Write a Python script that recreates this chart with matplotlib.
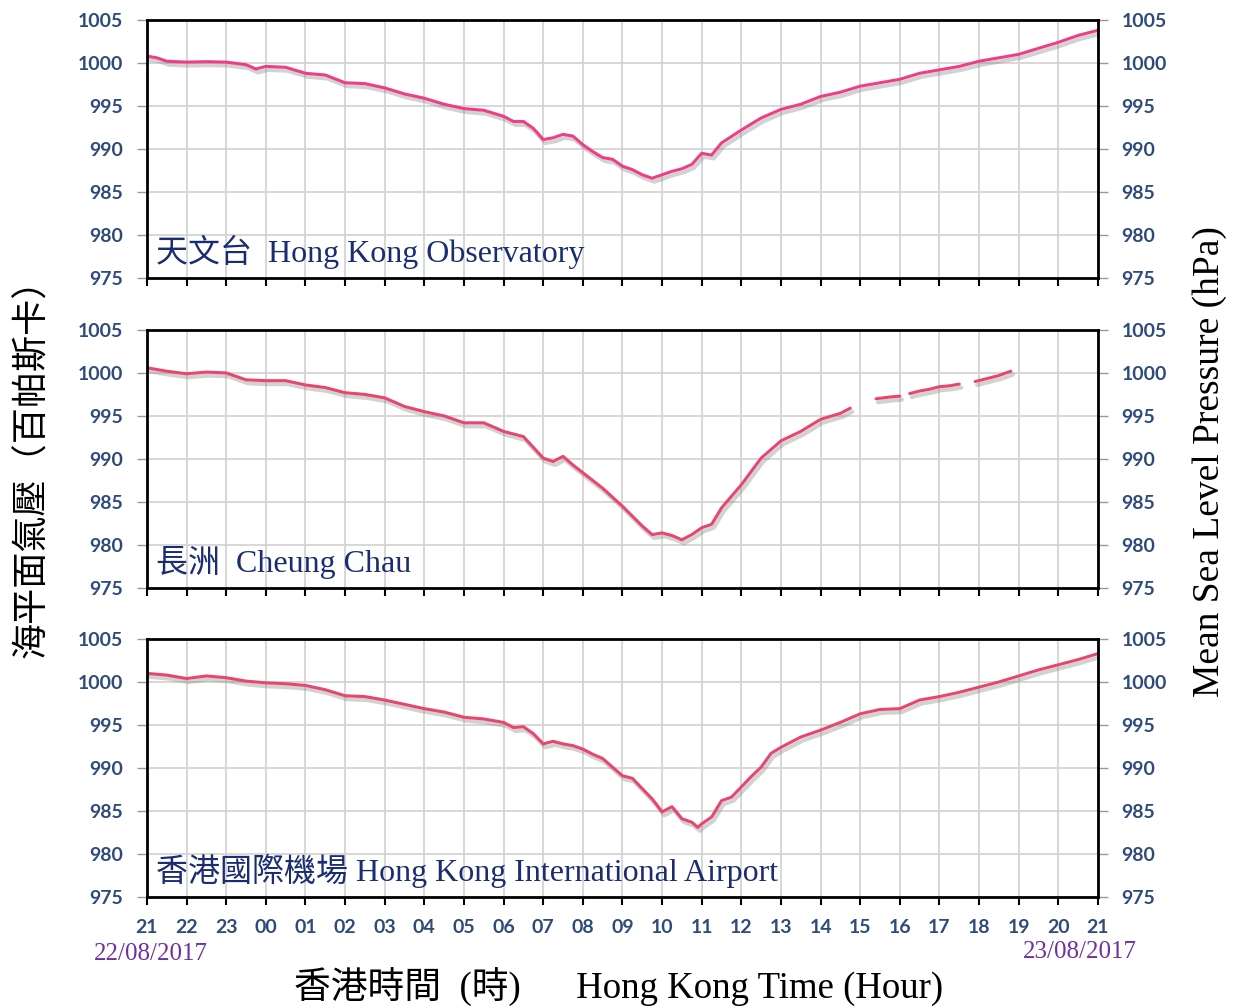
import numpy as np
import matplotlib
matplotlib.use("Agg")
import matplotlib.pyplot as plt
import matplotlib.patheffects as pe

# hours after 21:00 on 22/08/2017
hko_hours = [0, 0.25, 0.5, 1, 1.5, 2, 2.5, 2.75, 3, 3.5, 4, 4.5, 5, 5.5, 6, 6.5, 7, 7.5,
             8, 8.5, 9, 9.25, 9.5, 9.75, 10, 10.25, 10.5, 10.75, 11, 11.25, 11.5, 11.75,
             12, 12.25, 12.5, 12.75, 13, 13.25, 13.5, 13.75, 14, 14.25, 14.5, 15, 15.5,
             16, 16.5, 17, 17.5, 18, 18.5, 19, 19.5, 20, 20.5, 21, 21.5, 22, 22.5, 23,
             23.5, 24]
hko_hpa = [1000.8, 1000.6, 1000.2, 1000.1, 1000.15, 1000.1, 999.8, 999.3, 999.6, 999.5,
           998.8, 998.6, 997.7, 997.6, 997.1, 996.4, 995.9, 995.2, 994.7, 994.5, 993.8,
           993.2, 993.2, 992.4, 991.1, 991.3, 991.7, 991.5, 990.5, 989.7, 989.0, 988.8,
           988.0, 987.6, 987.0, 986.6, 987.0, 987.4, 987.7, 988.2, 989.5, 989.3, 990.7,
           992.2, 993.6, 994.6, 995.2, 996.1, 996.6, 997.3, 997.7, 998.1, 998.8, 999.2,
           999.6, 1000.2, 1000.6, 1001.0, 1001.7, 1002.4, 1003.2, 1003.8]

cc_hours = [0, 0.5, 1, 1.5, 2, 2.5, 3, 3.5, 4, 4.5, 5, 5.5, 6, 6.5, 7, 7.5, 8, 8.5, 9,
            9.5, 10, 10.25, 10.5, 10.75, 11, 11.5, 12, 12.5, 12.75, 13, 13.25, 13.5,
            13.75, 14, 14.25, 14.5, 15, 15.5, 16, 16.5, 17, 17.5, 17.75, 18.0, 18.4,
            18.75, 19.0, 19.1, 19.25, 19.5, 19.75, 20.0, 20.25, 20.5, 20.65, 20.9,
            21.25, 21.5, 21.8]
cc_hpa = [1000.6, 1000.2, 999.9, 1000.1, 1000.0, 999.2, 999.1, 999.1, 998.6, 998.3,
          997.7, 997.5, 997.1, 996.1, 995.5, 995.0, 994.2, 994.2, 993.2, 992.6, 990.1,
          989.7, 990.3, 989.3, 988.4, 986.6, 984.5, 982.2, 981.2, 981.4, 981.1, 980.6,
          981.2, 982.0, 982.4, 984.3, 987.0, 990.1, 992.1, 993.2, 994.6, 995.3, 995.9,
          np.nan, 997.0, 997.2, 997.3, np.nan, 997.6, 997.9, 998.1, 998.4, 998.5,
          998.7, np.nan, 999.0, 999.4, 999.7, 1000.2]

hkia_hours = [0, 0.5, 1, 1.5, 2, 2.5, 3, 3.5, 4, 4.5, 5, 5.5, 6, 6.5, 7, 7.5, 8, 8.5, 9,
              9.25, 9.5, 9.75, 10, 10.25, 10.5, 10.75, 11, 11.25, 11.5, 11.75, 12, 12.25,
              12.5, 12.75, 13, 13.25, 13.5, 13.75, 13.9, 14, 14.25, 14.5, 14.75, 15,
              15.25, 15.5, 15.75, 16, 16.5, 17, 17.5, 18, 18.5, 19, 19.5, 20, 20.5, 21,
              21.5, 22, 22.5, 23, 23.5, 24]
hkia_hpa = [1001.0, 1000.8, 1000.4, 1000.7, 1000.5, 1000.1, 999.9, 999.8, 999.6, 999.1,
            998.4, 998.3, 997.9, 997.4, 996.9, 996.5, 995.9, 995.7, 995.3, 994.7, 994.8,
            994.0, 992.8, 993.1, 992.8, 992.6, 992.2, 991.6, 991.1, 990.1, 989.1, 988.8,
            987.6, 986.4, 984.9, 985.5, 984.1, 983.7, 983.1, 983.5, 984.3, 986.2, 986.6,
            987.8, 989.0, 990.1, 991.7, 992.4, 993.6, 994.4, 995.3, 996.3, 996.8, 996.9,
            997.9, 998.3, 998.8, 999.4, 1000.0, 1000.7, 1001.4, 1002.0, 1002.6, 1003.3]

hour_labels = ["21", "22", "23", "00", "01", "02", "03", "04", "05", "06", "07", "08",
               "09", "10", "11", "12", "13", "14", "15", "16", "17", "18", "19", "20", "21"]
y_ticks = [975, 980, 985, 990, 995, 1000, 1005]

panels = [
    (hko_hours, hko_hpa, "#ee3f86", "天文台  Hong Kong Observatory"),
    (cc_hours, cc_hpa, "#e8466f", "長洲  Cheung Chau"),
    (hkia_hours, hkia_hpa, "#e8466f", "香港國際機場 Hong Kong International Airport"),
]

TICK_COLOR = "#2f4b7c"
LABEL_FONT = ["Liberation Serif", "Noto Sans CJK TC"]

fig = plt.figure(figsize=(12.37, 10.08), dpi=100)
bottoms = [0.7242, 0.4167, 0.1101]

for i, (hours, hpa, color, label) in enumerate(panels):
    ax = fig.add_axes([0.1188, bottoms[i], 0.7688, 0.256])
    ax.plot(hours, hpa, color=color, linewidth=2.2, solid_capstyle="round",
            path_effects=[pe.SimpleLineShadow(offset=(1.5, -2.5), shadow_color="gray",
                                              alpha=0.35, linewidth=3.0),
                          pe.Normal()])
    ax.set_xlim(0, 24)
    ax.set_ylim(975, 1005)
    ax.set_xticks(range(25))
    ax.set_yticks(y_ticks)
    ax.grid(True, color="#d4d4d4", linewidth=1.3)
    ax.set_axisbelow(True)
    for side in ax.spines.values():
        side.set_color("black")
        side.set_linewidth(2.0)
    ax.tick_params(axis="x", direction="out", length=6, width=1.5, color="black")
    ax.tick_params(axis="y", direction="out", length=7, width=1.0, color="#999999",
                   left=True, right=True, labelleft=True, labelright=True, pad=10)
    for t in ax.get_yticklabels():
        t.set_fontfamily("Lato")
        t.set_fontweight("bold")
        t.set_fontsize(14)
        t.set_color(TICK_COLOR)
    if i == 2:
        ax.set_xticklabels(hour_labels, fontfamily="Lato", fontweight="bold",
                           fontsize=14, color=TICK_COLOR)
        ax.tick_params(axis="x", pad=10)
    else:
        ax.set_xticklabels([])
    ax.text(0.009, 0.10, label, transform=ax.transAxes, va="center", ha="left",
            fontsize=23, color="#1a2d72", family=LABEL_FONT)

fig.text(0.026, 0.544, "海平面氣壓（百帕斯卡）", rotation=90, ha="center", va="center",
         fontsize=26, family=["Noto Sans CJK TC", "DejaVu Sans"])
fig.text(0.978, 0.542, "Mean Sea Level Pressure (hPa)", rotation=90, ha="center",
         va="center", fontsize=27, family=LABEL_FONT)
fig.text(0.5, 0.02, "香港時間  (時)      Hong Kong Time (Hour)", ha="center",
         va="center", fontsize=26.5, family=LABEL_FONT)
fig.text(0.122, 0.054, "22/08/2017", ha="center", va="center", fontsize=18,
         color="#7030a0", family=LABEL_FONT)
fig.text(0.873, 0.056, "23/08/2017", ha="center", va="center", fontsize=18,
         color="#7030a0", family=LABEL_FONT)

fig.savefig("out.png", dpi=100)
plt.close(fig)
